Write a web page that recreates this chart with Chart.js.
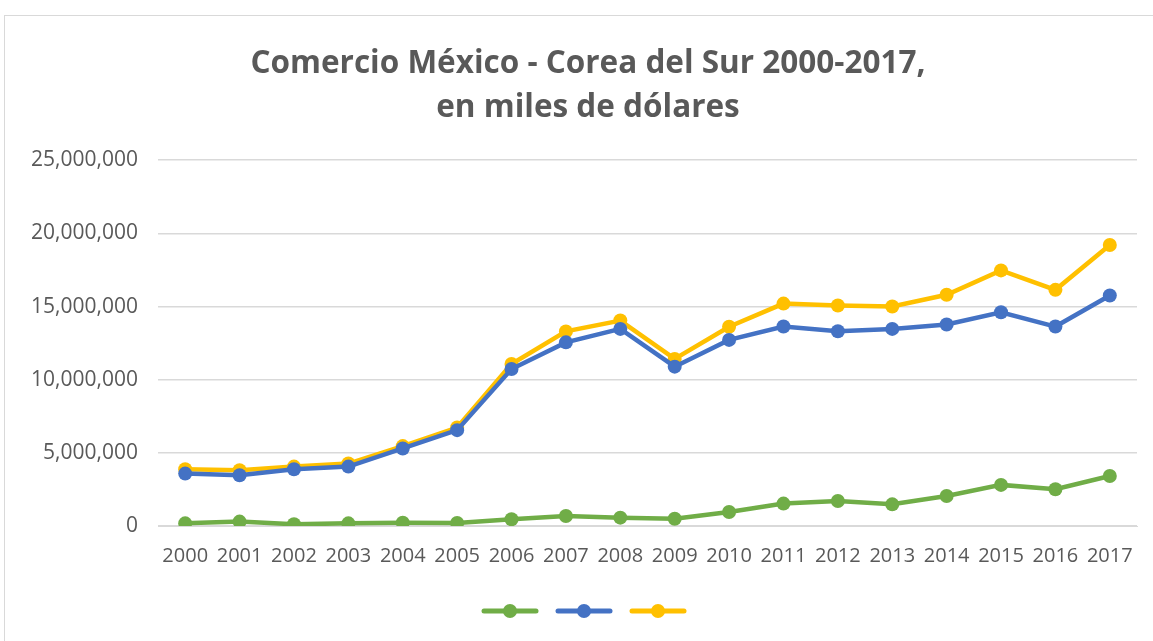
<!DOCTYPE html>
<html>
<head>
<meta charset="utf-8">
<script src="https://cdn.jsdelivr.net/npm/chart.js@4"></script>
<style>
    html, body { margin: 0; padding: 0; background: #fff; overflow: hidden; }
    #frame {
        position: absolute; left: 4px; top: 15px;
        width: 1166px; height: 640px;
        border: 1px solid #d9d9d9; background: #fff;
    }
    #chart { display: block; }
</style>
</head>
<body>
<div id="frame"><canvas id="chart" width="1166" height="640"></canvas></div>
<script>
// Data, in miles de dólares
const years = ['2000', '2001', '2002', '2003', '2004', '2005', '2006', '2007', '2008',
    '2009', '2010', '2011', '2012', '2013', '2014', '2015', '2016', '2017'];
const exportaciones = [180000, 300000, 120000, 180000, 230000, 200000, 460000, 680000, 570000,
    500000, 960000, 1530000, 1710000, 1480000, 2050000, 2810000, 2510000, 3420000];
const importaciones = [3580000, 3470000, 3880000, 4060000, 5300000, 6550000, 10730000, 12550000, 13470000,
    10890000, 12720000, 13630000, 13310000, 13470000, 13770000, 14610000, 13630000, 15750000];
const total = [3880000, 3810000, 4060000, 4270000, 5460000, 6730000, 11070000, 13300000, 14040000,
    11420000, 13620000, 15200000, 15070000, 15000000, 15800000, 17470000, 16140000, 19200000];
const yTicks = [0, 5000000, 10000000, 15000000, 20000000, 25000000];

const textColor = '#595959';
const gridColor = '#d9d9d9';
const fontFamily = '"Open Sans", "Liberation Sans", sans-serif';

// Legend marker: a short line with a dot in the middle
function legendMarker(color) {
    const c = document.createElement('canvas');
    c.width = 58;
    c.height = 16;
    const ctx = c.getContext('2d');
    ctx.strokeStyle = color;
    ctx.lineWidth = 5;
    ctx.lineCap = 'round';
    ctx.beginPath();
    ctx.moveTo(3, 8);
    ctx.lineTo(55, 8);
    ctx.stroke();
    ctx.fillStyle = color;
    ctx.beginPath();
    ctx.arc(29, 8, 7, 0, Math.PI * 2);
    ctx.fill();
    return c;
}

function makeDataset(label, data, color) {
    return {
        label: label,
        data: data,
        borderColor: color,
        backgroundColor: color,
        borderWidth: 4.5,
        pointRadius: 7,
        pointHoverRadius: 8,
        pointBorderWidth: 0,
        tension: 0,
        fill: false
    };
}

// Center title and legend on the whole frame, not only on the plot side
const centerBlocks = {
    id: 'centerBlocks',
    afterLayout(chart) {
        if (chart.titleBlock) chart.titleBlock.left = 34;
        if (chart.legend) chart.legend.left = 34;
    }
};

const ctx = document.getElementById('chart').getContext('2d');
new Chart(ctx, {
    type: 'line',
    data: {
        labels: years,
        datasets: [
            makeDataset('Exportaciones', exportaciones, '#70ad47'),
            makeDataset('Importaciones', importaciones, '#4472c4'),
            makeDataset('Comercio total', total, '#ffc000')
        ]
    },
    plugins: [centerBlocks],
    options: {
        responsive: false,
        animation: false,
        layout: {
            padding: { left: 0, right: 34, top: 0, bottom: 27 }
        },
        plugins: {
            title: {
                display: true,
                text: ['Comercio México - Corea del Sur 2000-2017,', 'en miles de dólares'],
                color: textColor,
                font: { family: fontFamily, size: 31.5, weight: 'bold', lineHeight: 1.4 },
                padding: { top: 26, bottom: 30 }
            },
            legend: {
                position: 'bottom',
                labels: {
                    usePointStyle: true,
                    pointStyleWidth: 58,
                    font: { size: 16 },
                    padding: 8,
                    generateLabels: function(chart) {
                        return chart.data.datasets.map((ds, i) => ({
                            text: '',
                            pointStyle: legendMarker(ds.borderColor),
                            fillStyle: ds.borderColor,
                            strokeStyle: ds.borderColor,
                            lineWidth: 0,
                            datasetIndex: i,
                            hidden: false
                        }));
                    }
                }
            },
            tooltip: { enabled: false }
        },
        scales: {
            x: {
                offset: true,
                grid: { display: false },
                border: { display: true, color: gridColor, width: 1 },
                afterFit: function(scale) {
                    scale.height += 17;
                },
                ticks: {
                    color: textColor,
                    font: { family: fontFamily, size: 20 },
                    maxRotation: 0,
                    autoSkip: false,
                    padding: 10
                }
            },
            y: {
                min: 0,
                max: 25000000,
                afterBuildTicks: function(scale) {
                    scale.ticks = yTicks.map(v => ({ value: v }));
                },
                afterFit: function(scale) {
                    scale.width = 153;
                },
                grid: { color: gridColor, lineWidth: 1.5, drawTicks: false },
                border: { display: false },
                ticks: {
                    color: textColor,
                    font: { family: fontFamily, size: 21 },
                    padding: 20,
                    callback: function(value) {
                        return value.toLocaleString('en-US');
                    }
                }
            }
        }
    }
});
</script>
</body>
</html>
